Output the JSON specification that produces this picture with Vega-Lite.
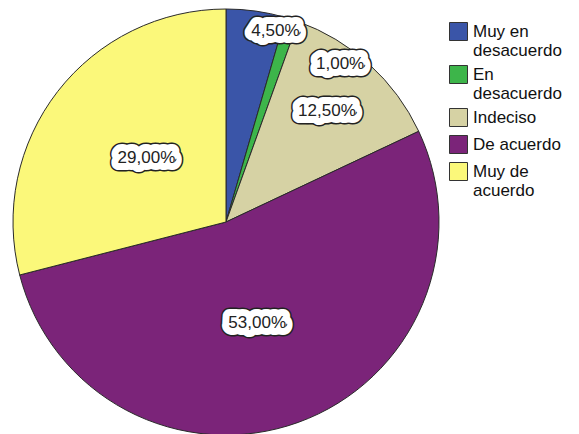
{
  "$schema": "https://vega.github.io/schema/vega-lite/v6.json",
  "width": 426,
  "height": 426,
  "padding": {"left": 11, "top": 7, "right": 0, "bottom": 0},
  "background": "white",
  "data": {
    "values": [
      {"idx": 1, "cat": "Muy en desacuerdo", "pct": 4.5, "label": "4,50%"},
      {"idx": 2, "cat": "En desacuerdo", "pct": 1.0, "label": "1,00%"},
      {"idx": 3, "cat": "Indeciso", "pct": 12.5, "label": "12,50%"},
      {"idx": 4, "cat": "De acuerdo", "pct": 53.0, "label": "53,00%"},
      {"idx": 5, "cat": "Muy de acuerdo", "pct": 29.0, "label": "29,00%"}
    ]
  },
  "encoding": {
    "theta": {"field": "pct", "type": "quantitative", "stack": true},
    "order": {"field": "idx", "type": "quantitative"}
  },
  "layer": [
    {
      "mark": {"type": "arc", "stroke": "#2a2a2a", "strokeWidth": 1},
      "encoding": {
        "color": {
          "field": "cat",
          "type": "nominal",
          "sort": ["Muy en desacuerdo", "En desacuerdo", "Indeciso", "De acuerdo", "Muy de acuerdo"],
          "scale": {
            "domain": ["Muy en desacuerdo", "En desacuerdo", "Indeciso", "De acuerdo", "Muy de acuerdo"],
            "range": ["#3a55a8", "#3db54a", "#d6d2a4", "#7b2479", "#fbf87a"]
          },
          "legend": {
            "title": null,
            "orient": "none",
            "legendX": 436,
            "legendY": 13,
            "symbolType": "square",
            "symbolSize": 324,
            "symbolStrokeColor": "#333333",
            "symbolStrokeWidth": 1,
            "symbolOpacity": 1,
            "labelFont": "Liberation Sans",
            "labelFontSize": 17,
            "labelColor": "#111111",
            "labelOffset": 5,
            "labelLimit": 200,
            "rowPadding": 4,
            "padding": 0,
            "labelExpr": "datum.label == 'Muy en desacuerdo' ? ['Muy en', 'desacuerdo'] : datum.label == 'En desacuerdo' ? ['En', 'desacuerdo'] : datum.label == 'Muy de acuerdo' ? ['Muy de', 'acuerdo'] : datum.label"
          }
        }
      }
    },
    {
      "mark": {
        "type": "text",
        "font": "Liberation Sans",
        "fontSize": 17,
        "fill": "#222222",
        "stroke": "#222222",
        "strokeWidth": 17,
        "strokeJoin": "round",
        "radius": {"expr": "datum.idx == 1 ? 197 : datum.idx == 2 ? 195 : datum.idx == 3 ? 150 : datum.idx == 4 ? 106 : 102"},
        "thetaOffset": {"expr": "datum.idx == 1 ? 0.112 : datum.idx == 2 ? 0.311 : datum.idx == 4 ? 0.047 : datum.idx == 5 ? 0.016 : 0"}
      },
      "encoding": {"text": {"field": "label"}}
    },
    {
      "mark": {
        "type": "text",
        "font": "Liberation Sans",
        "fontSize": 17,
        "fill": "white",
        "stroke": "white",
        "strokeWidth": 14,
        "strokeJoin": "round",
        "radius": {"expr": "datum.idx == 1 ? 197 : datum.idx == 2 ? 195 : datum.idx == 3 ? 150 : datum.idx == 4 ? 106 : 102"},
        "thetaOffset": {"expr": "datum.idx == 1 ? 0.112 : datum.idx == 2 ? 0.311 : datum.idx == 4 ? 0.047 : datum.idx == 5 ? 0.016 : 0"}
      },
      "encoding": {"text": {"field": "label"}}
    },
    {
      "mark": {
        "type": "text",
        "font": "Liberation Sans",
        "fontSize": 17,
        "fill": "#222222",
        "radius": {"expr": "datum.idx == 1 ? 197 : datum.idx == 2 ? 195 : datum.idx == 3 ? 150 : datum.idx == 4 ? 106 : 102"},
        "thetaOffset": {"expr": "datum.idx == 1 ? 0.112 : datum.idx == 2 ? 0.311 : datum.idx == 4 ? 0.047 : datum.idx == 5 ? 0.016 : 0"}
      },
      "encoding": {"text": {"field": "label"}}
    }
  ],
  "config": {"view": {"stroke": null}}
}
